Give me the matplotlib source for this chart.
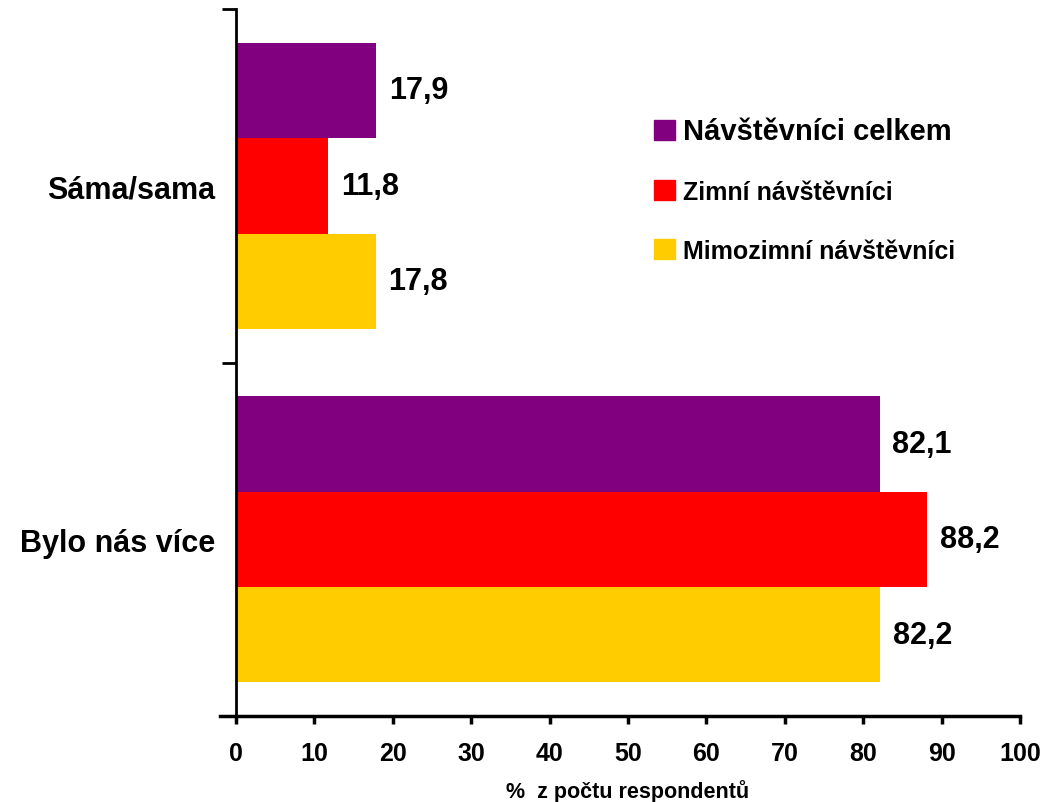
import matplotlib.pyplot as plt
import numpy as np
from matplotlib.patches import Patch

# Data
categories = ['Bylo nás více', 'Sáma/sama']
series_names = ['Návštěvníci celkem', 'Zimní návštěvníci', 'Mimozimní návštěvníci']
celkem = [82.1, 17.9]
zimni = [88.2, 11.8]
mimozimni = [82.2, 17.8]
colors = ['#800080', '#FF0000', '#FFCC00']

plt.rcParams['font.family'] = ['Liberation Sans', 'DejaVu Sans']
plt.rcParams['font.weight'] = 'bold'

fig = plt.figure(figsize=(10.44, 8.03), dpi=100)
ax = fig.add_axes([0.226, 0.107, 0.751, 0.8805])

y = np.arange(len(categories))
h = 0.27
all_series = [celkem, zimni, mimozimni]
offsets = [h, 0, -h]
for vals, off, col, name in zip(all_series, offsets, colors, series_names):
    ax.barh(y + off, vals, height=h, color=col, label=name)
    for yi, v in zip(y, vals):
        ax.text(v + 1.6, yi + off, f'{v:.1f}'.replace('.', ','), va='center', ha='left',
                fontsize=22, fontweight='bold')

ax.set_xlim(0, 100)
ax.set_ylim(-0.5, 1.5)

# category boundaries as major ticks, names as minor ticks without marks
ax.set_yticks([-0.5, 0.5, 1.5])
ax.set_yticklabels([])
ax.set_yticks(y, minor=True)
ax.set_yticklabels(categories, minor=True, fontsize=22, fontweight='bold')
ax.tick_params(axis='y', which='minor', length=0, pad=15)
ax.tick_params(axis='y', which='major', length=10, width=2, direction='out')

ax.set_xticks(range(0, 101, 10))
ax.set_xticklabels([str(t) for t in range(0, 101, 10)], fontsize=18, fontweight='bold')
ax.tick_params(axis='x', length=6, width=2.5, direction='out', pad=12)
ax.set_xlabel('%  z počtu respondentů', fontsize=15.5, fontweight='bold', labelpad=10)

for s in ['top', 'right']:
    ax.spines[s].set_visible(False)
ax.spines['left'].set_linewidth(2)
ax.spines['bottom'].set_linewidth(2.5)
ax.spines['bottom'].set_bounds(-2, 100)

handles = [Patch(color=c) for c in colors]
leg = fig.legend(handles, series_names, loc='upper left', bbox_to_anchor=(0.6264, 0.853),
                 frameon=False, handlelength=0.85, handleheight=0.85, handletextpad=0.32,
                 labelspacing=1.4, fontsize=18, borderpad=0, borderaxespad=0)
texts = leg.get_texts()
texts[0].set_fontsize(21)
for t in texts:
    t.set_fontweight('bold')

fig.savefig('out.png', dpi=100)
